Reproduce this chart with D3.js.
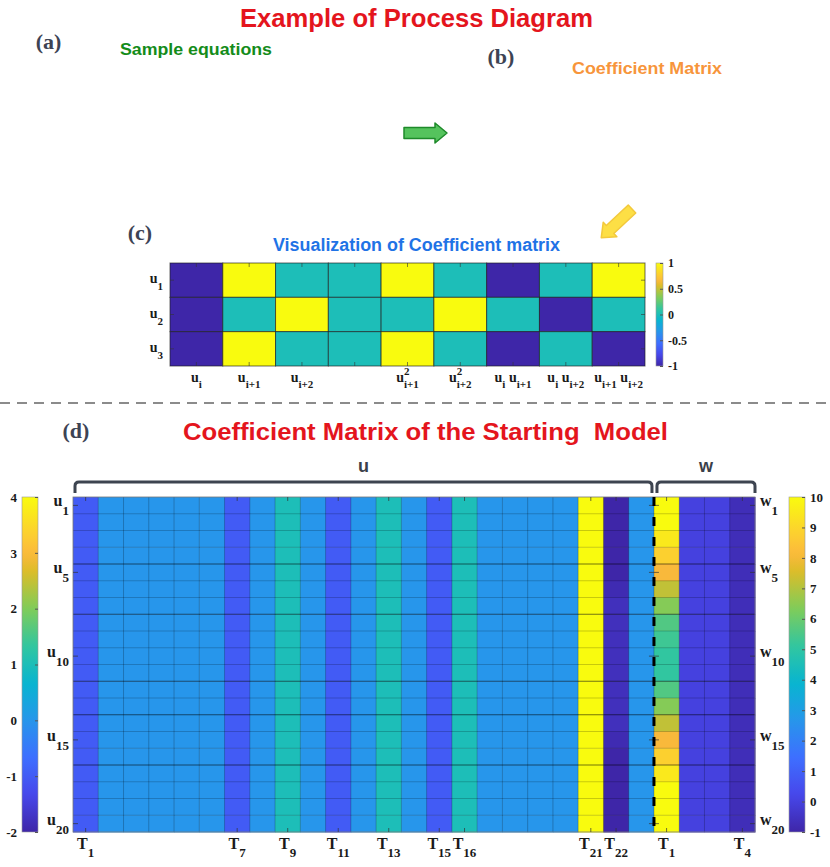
<!DOCTYPE html>
<html>
<head>
<meta charset="utf-8">
<script src="https://cdn.jsdelivr.net/npm/d3@7"></script>
<style>
  body { margin: 0; background: #fff; }
  svg { display: block; }
</style>
</head>
<body>
<svg id="chart" width="830" height="867"></svg>
<script>
// ---------- data ----------
// (c) small coefficient matrix, 3 equations x 9 terms
const smallRows = ['1', '2', '3'];
const smallTerms = [
  [{b: 'u', sub: 'i'}],
  [{b: 'u', sub: 'i+1'}],
  [{b: 'u', sub: 'i+2'}],
  [],
  [{b: 'u', sup: '2', sub: 'i+1'}],
  [{b: 'u', sup: '2', sub: 'i+2'}],
  [{b: 'u', sub: 'i'}, {b: 'u', sub: 'i+1'}],
  [{b: 'u', sub: 'i'}, {b: 'u', sub: 'i+2'}],
  [{b: 'u', sub: 'i+1'}, {b: 'u', sub: 'i+2'}]
];
const smallMatrix = [
  [-1, 1, 0, 0, 1, 0, -1, 0, 1],
  [-1, 0, 1, 0, 0, 1, 0, -1, 0],
  [-1, 1, 0, 0, 1, 0, -1, 0, -1]
];
const smallTicks = [1, 0.5, 0, -0.5, -1];

// (d) starting model: 20 rows, 23 u-terms + 4 w-terms
const uColumnValues = [-1, 0, 0, 0, 0, 0, -1, 0, 1, 0, -1, 0, 1, 0, -1, 1, 0, 0, 0, 0, 4, -2, 0];
const t22ByRow = [-2, -2, -2, -2, -2, -1.9, -1.8, -1.8, -1.8, -1.8, -1.8, -1.8, -1.8, -1.8, -1.9, -2, -2, -2, -2, -2];
const wT1ByRow = [10, 10, 9.5, 8.8, 8.1, 7.2, 6.4, 5.6, 5.3, 5.1, 5.1, 5.6, 6.4, 7.2, 8.1, 8.8, 9.5, 10, 10, 10];
const wOtherValues = [0, 0, -0.7];   // w T2..T4
const uTickCols = [1, 7, 9, 11, 13, 15, 16, 21, 22];
const wTickCols = [1, 4];
const rowTicks = [1, 5, 10, 15, 20];
const darkRowLines = [4, 7, 11, 13, 16];
const uColorTicks = [4, 3, 2, 1, 0, -1, -2];
const wColorTicks = [10, 9, 8, 7, 6, 5, 4, 3, 2, 1, 0, -1];

// parula colour map stops
const parulaT = [0, 0.111, 0.222, 0.333, 0.444, 0.556, 0.667, 0.778, 0.83, 0.889, 1];
const parulaC = ['#3e26a8', '#4747eb', '#3e6fff', '#2796eb', '#08b5d0', '#32c69f',
                 '#80cc59', '#dcbd29', '#fbb93c', '#fccf30', '#f9fb0e'];

// ---------- setup ----------
const SANS = '"Liberation Sans", Arial, sans-serif';
const SERIF = '"Liberation Serif", "Times New Roman", serif';
const svg = d3.select('#chart');
const parula = d3.scaleLinear().domain(parulaT).range(parulaC).interpolate(d3.interpolateRgb).clamp(true);

function colorFor(lo, hi) {
  return v => parula((v - lo) / (hi - lo));
}

function title(x, y, txt, size, len, color) {
  svg.append('text')
    .attr('x', x).attr('y', y)
    .attr('text-anchor', 'middle')
    .attr('font-family', SANS).attr('font-weight', 'bold')
    .attr('font-size', size).attr('fill', color)
    .attr('textLength', len).attr('lengthAdjust', 'spacingAndGlyphs')
    .style('white-space', 'pre')
    .text(txt);
}

function panelTag(x, y, txt) {
  svg.append('text')
    .attr('x', x).attr('y', y)
    .attr('text-anchor', 'middle')
    .attr('font-family', SERIF).attr('font-weight', 'bold')
    .attr('font-size', 22).attr('fill', '#3d4354')
    .text(txt);
}

// TeX-like label: terms = [{b, sub, sup}]
function tex(g, x, y, terms, o) {
  const t = g.append('text')
    .attr('x', x).attr('y', y)
    .attr('text-anchor', o.anchor || 'middle')
    .attr('font-family', SERIF).attr('font-weight', 'bold')
    .attr('font-size', o.size).attr('fill', '#1a1a1a');
  let shift = 0;
  terms.forEach((term, i) => {
    t.append('tspan').attr('dy', -shift).text((i ? ' ' : '') + term.b);
    shift = 0;
    if (term.sup) {
      t.append('tspan').attr('dy', -o.up).attr('font-size', o.small).text(term.sup);
      shift = -o.up;
    }
    if (term.sub) {
      const s = t.append('tspan').attr('dy', o.down - shift).attr('font-size', o.small).text(term.sub);
      if (term.sup) s.attr('dx', -o.small * 0.5 * term.sup.length);
      shift = o.down;
    }
  });
  return t;
}

function blockArrow(tx, ty, angle, len, fill, stroke) {
  const p = d3.path();
  const body = 5.5, head = 10, hl = 12;
  p.moveTo(0, -body); p.lineTo(len - hl, -body); p.lineTo(len - hl, -head);
  p.lineTo(len, 0); p.lineTo(len - hl, head); p.lineTo(len - hl, body);
  p.lineTo(0, body); p.closePath();
  svg.append('path')
    .attr('d', p.toString())
    .attr('transform', `translate(${tx},${ty}) rotate(${angle})`)
    .attr('fill', fill).attr('stroke', stroke)
    .attr('stroke-width', 1.5).attr('stroke-linejoin', 'round');
}

const plainNum = d => String(d);

function colorbar(x, y0, y1, w, lo, hi, ticks, labelSide, id) {
  const scale = d3.scaleLinear().domain([lo, hi]).range([y1, y0]);
  const col = colorFor(lo, hi);
  const grad = svg.append('defs').append('linearGradient')
    .attr('id', id).attr('x1', 0).attr('y1', 1).attr('x2', 0).attr('y2', 0);
  d3.range(0, 1.0001, 0.02).forEach(t => {
    grad.append('stop').attr('offset', t).attr('stop-color', col(lo + t * (hi - lo)));
  });
  svg.append('rect')
    .attr('x', x).attr('y', y0).attr('width', w).attr('height', y1 - y0)
    .attr('fill', `url(#${id})`).attr('stroke', '#9a9a9a').attr('stroke-width', 0.6);

  // inner ticks on the right edge
  const tk = svg.append('g').attr('transform', `translate(${x + w},0)`)
    .call(d3.axisRight(scale).tickValues(ticks).tickSize(-3).tickFormat(''));
  tk.select('.domain').remove();
  tk.selectAll('line').attr('stroke', '#555');

  const ax = labelSide === 'left'
    ? d3.axisLeft(scale).tickValues(ticks).tickSize(0).tickPadding(5).tickFormat(plainNum)
    : d3.axisRight(scale).tickValues(ticks).tickSize(0).tickPadding(5).tickFormat(plainNum);
  const g = svg.append('g')
    .attr('transform', `translate(${labelSide === 'left' ? x : x + w},0)`)
    .call(ax);
  g.select('.domain').remove();
  g.selectAll('text')
    .attr('font-family', SERIF).attr('font-weight', 'bold')
    .attr('font-size', 13).attr('fill', '#1a1a1a');
  return g;
}

// ---------- top part ----------
title(416.5, 27, 'Example of Process Diagram', 26, 353, '#e4151d');
panelTag(48.5, 49, '(a)');
title(196, 55, 'Sample equations', 17, 152, '#148c1a');
panelTag(501, 64, '(b)');
title(647, 74, 'Coefficient Matrix', 17, 150, '#f7953b');
blockArrow(404, 133, 0, 43, '#55c35d', '#1e8a2a');
blockArrow(632, 209, 137, 42, '#fddf45', '#f3c93c');
panelTag(140, 240, '(c)');
title(416.5, 251, 'Visualization of Coefficient matrix', 18, 287, '#1f73e6');

// ---------- (c) small heatmap ----------
const xs = d3.scaleBand().domain(d3.range(smallTerms.length)).range([170, 645]);
const ys = d3.scaleBand().domain(d3.range(smallRows.length)).range([263, 366]);
const colSmall = colorFor(-1, 1);
const gs = svg.append('g');
const smallCells = [];
smallMatrix.forEach((row, r) => row.forEach((v, c) => smallCells.push({r, c, v})));
gs.selectAll('rect').data(smallCells).join('rect')
  .attr('x', d => xs(d.c)).attr('y', d => ys(d.r))
  .attr('width', xs.bandwidth()).attr('height', ys.bandwidth())
  .attr('fill', d => colSmall(d.v))
  .attr('stroke', '#1d1d1d').attr('stroke-opacity', 0.65).attr('stroke-width', 1);
// inner ticks
smallTerms.forEach((t, c) => {
  const cx = xs(c) + xs.bandwidth() / 2;
  gs.append('line').attr('x1', cx).attr('x2', cx).attr('y1', 366).attr('y2', 362)
    .attr('stroke', '#333').attr('stroke-opacity', 0.6);
  gs.append('line').attr('x1', cx).attr('x2', cx).attr('y1', 263).attr('y2', 267)
    .attr('stroke', '#333').attr('stroke-opacity', 0.6);
});
smallRows.forEach((s, r) => {
  const cy = ys(r) + ys.bandwidth() / 2;
  tex(gs, 163, cy + 3, [{b: 'u', sub: s}], {anchor: 'end', size: 14, small: 11, down: 7, up: 7});
  gs.append('line').attr('x1', 170).attr('x2', 174).attr('y1', cy).attr('y2', cy)
    .attr('stroke', '#333').attr('stroke-opacity', 0.6);
  gs.append('line').attr('x1', 645).attr('x2', 641).attr('y1', cy).attr('y2', cy)
    .attr('stroke', '#333').attr('stroke-opacity', 0.6);
});
smallTerms.forEach((terms, c) => {
  if (!terms.length) return;
  tex(gs, xs(c) + xs.bandwidth() / 2, 382, terms, {size: 14, small: 11, down: 6, up: 7});
});
colorbar(656, 263, 366, 7, -1, 1, smallTicks, 'right', 'cbSmall')
  .selectAll('text').attr('font-size', 12);

// ---------- separator ----------
svg.append('line')
  .attr('x1', 0).attr('x2', 830).attr('y1', 403).attr('y2', 403)
  .attr('stroke', '#666').attr('stroke-width', 1.4).attr('stroke-dasharray', '10,7');

// ---------- (d) starting model ----------
panelTag(76, 438, '(d)');
title(425.5, 440, 'Coefficient Matrix of the Starting  Model', 24, 485, '#e4151d');

const nU = uColumnValues.length, nW = 1 + wOtherValues.length, nRows = wT1ByRow.length;
const xb = d3.scaleBand().domain(d3.range(nU + nW)).range([73, 755]);
const yb = d3.scaleBand().domain(d3.range(nRows)).range([497, 832]);
const colU = colorFor(-2, 4), colW = colorFor(-1, 10);

const bigCells = [];
for (let r = 0; r < nRows; r++) {
  uColumnValues.forEach((v, c) => {
    bigCells.push({r, c, fill: colU(c === 21 ? t22ByRow[r] : v)});
  });
  bigCells.push({r, c: nU, fill: colW(wT1ByRow[r])});
  wOtherValues.forEach((v, i) => bigCells.push({r, c: nU + 1 + i, fill: colW(v)}));
}
const gb = svg.append('g');
gb.selectAll('rect').data(bigCells).join('rect')
  .attr('x', d => xb(d.c)).attr('y', d => yb(d.r))
  .attr('width', xb.bandwidth() + 0.5).attr('height', yb.bandwidth() + 0.5)
  .attr('fill', d => d.fill);

// grid lines
d3.range(1, nRows).forEach(k => {
  gb.append('line').attr('x1', 73).attr('x2', 755).attr('y1', yb(k)).attr('y2', yb(k))
    .attr('stroke', '#000').attr('stroke-width', 0.9)
    .attr('stroke-opacity', darkRowLines.includes(k) ? 0.6 : 0.22);
});
d3.range(1, nU + nW).forEach(k => {
  gb.append('line').attr('x1', xb(k)).attr('x2', xb(k)).attr('y1', 497).attr('y2', 832)
    .attr('stroke', '#000').attr('stroke-width', 0.9).attr('stroke-opacity', 0.25);
});
gb.append('rect').attr('x', 73).attr('y', 497).attr('width', 682).attr('height', 335)
  .attr('fill', 'none').attr('stroke', '#777').attr('stroke-width', 0.8);

// inner ticks
const tickCols = uTickCols.map(c => c - 1).concat(wTickCols.map(c => nU + c - 1));
tickCols.forEach(c => {
  const cx = xb(c) + xb.bandwidth() / 2;
  gb.append('line').attr('x1', cx).attr('x2', cx).attr('y1', 497).attr('y2', 501)
    .attr('stroke', '#333').attr('stroke-opacity', 0.7);
  gb.append('line').attr('x1', cx).attr('x2', cx).attr('y1', 832).attr('y2', 828)
    .attr('stroke', '#333').attr('stroke-opacity', 0.7);
});
const edges = [[73, 5], [xb(nU), -5], [xb(nU), 5], [755, -5]];
rowTicks.forEach(r => {
  const cy = yb(r - 1) + yb.bandwidth() / 2;
  edges.forEach(([ex, d]) => {
    gb.append('line').attr('x1', ex).attr('x2', ex + d).attr('y1', cy).attr('y2', cy)
      .attr('stroke', '#333').attr('stroke-opacity', 0.7);
  });
});

// dashed divider between u and w
gb.append('line')
  .attr('x1', xb(nU)).attr('x2', xb(nU)).attr('y1', 497).attr('y2', 832)
  .attr('stroke', '#000').attr('stroke-width', 3).attr('stroke-dasharray', '9,11');

// row labels
rowTicks.forEach(r => {
  const cy = yb(r - 1) + yb.bandwidth() / 2;
  tex(gb, 69, cy + 1, [{b: 'u', sub: String(r)}], {anchor: 'end', size: 16, small: 13, down: 9});
  tex(gb, 760, cy + 1, [{b: 'w', sub: String(r)}], {anchor: 'start', size: 16, small: 13, down: 9});
});
// column labels
tickCols.forEach((c, i) => {
  const n = c < nU ? c + 1 : c - nU + 1;
  tex(gb, xb(c) + xb.bandwidth() / 2, 849, [{b: 'T', sub: String(n)}], {size: 16, small: 13, down: 8});
});

// brackets
function bracket(x0, x1, label) {
  const p = d3.path();
  p.moveTo(x0, 493); p.lineTo(x0, 486); p.quadraticCurveTo(x0, 482, x0 + 4, 482);
  p.lineTo(x1 - 4, 482); p.quadraticCurveTo(x1, 482, x1, 486); p.lineTo(x1, 493);
  svg.append('path').attr('d', p.toString())
    .attr('fill', 'none').attr('stroke', '#3d4450').attr('stroke-width', 3);
  svg.append('text')
    .attr('x', (x0 + x1) / 2).attr('y', 472).attr('text-anchor', 'middle')
    .attr('font-family', SANS).attr('font-weight', 'bold')
    .attr('font-size', 18).attr('fill', '#3a404a')
    .text(label);
}
bracket(75, xb(nU) - 2, 'u');
bracket(xb(nU) + 3, 755, 'w');

// colour bars
colorbar(22, 497, 832, 16, -2, 4, uColorTicks, 'left', 'cbU');
colorbar(789, 497, 832, 16, -1, 10, wColorTicks, 'right', 'cbW');
</script>
</body>
</html>
